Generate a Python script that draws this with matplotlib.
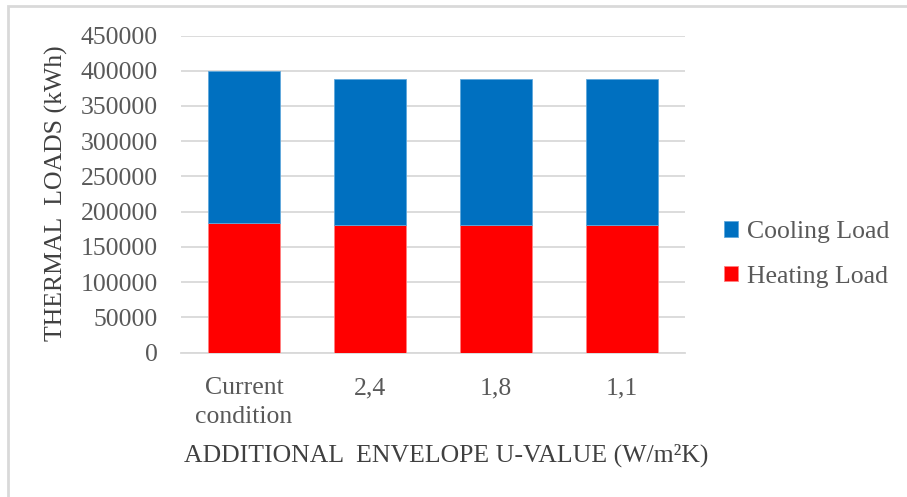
import numpy as np
import matplotlib.pyplot as plt
from matplotlib.patches import Rectangle

# thermal loads per envelope option (kWh)
categories = ["Current\ncondition", "2,4", "1,8", "1,1"]
heating_load = [184000, 181000, 181000, 181000]
cooling_load = [215000, 207000, 207000, 207000]

BLUE = "#0070C0"
RED = "#FF0000"
TXT = "#595959"
FS = 18.5

plt.rcParams["font.family"] = ["Liberation Serif", "DejaVu Serif"]

fig = plt.figure(figsize=(9.07, 4.97), dpi=100)
W, H = 907, 497
ax = fig.add_axes([181 / W, 1 - 352.7 / H, 504 / W, (352.7 - 35.5) / H])

x = np.arange(len(categories))
ax.bar(x, heating_load, width=0.565, color=RED, edgecolor="#ff8080",
       linewidth=0.6, zorder=3, label="Heating Load")
ax.bar(x, cooling_load, width=0.565, bottom=heating_load, color=BLUE,
       edgecolor="#5fa8dc", linewidth=0.6, zorder=3, label="Cooling Load")

ax.set_xlim(-0.5, 3.5)
ax.set_ylim(0, 450000)
ax.set_yticks(np.arange(0, 450001, 50000))
ax.yaxis.grid(True, color="#d9d9d9", linewidth=1.3, zorder=0)
ax.set_axisbelow(True)
for s in ["top", "right", "left"]:
    ax.spines[s].set_visible(False)
ax.spines["bottom"].set_color("#d9d9d9")
ax.spines["bottom"].set_linewidth(1.3)

ax.set_xticks(x)
ax.set_xticklabels(categories, fontsize=FS, color=TXT, linespacing=1.4)
ax.tick_params(axis="x", length=0, pad=17.5)
ax.tick_params(axis="y", length=0, pad=16.5, labelsize=FS, labelcolor=TXT)

fig.text(446 / W, 1 - 462 / H, "ADDITIONAL  ENVELOPE U-VALUE (W/m\u00b2K)",
         ha="center", va="baseline", fontsize=FS, color="#404040")
fig.text(56 / W, 1 - 193 / H, "THERMAL  LOADS (kWh)", rotation=90,
         ha="center", va="center", fontsize=FS, color="#404040")

# legend, cooling first like the stacking order top-down
handles, labels = ax.get_legend_handles_labels()
leg = fig.legend(handles[::-1], labels[::-1], loc="center left",
                 bbox_to_anchor=(701 / W, 1 - 254.5 / H), frameon=False,
                 fontsize=FS, labelcolor=TXT, handlelength=0.55,
                 handleheight=0.55, handletextpad=0.35, labelspacing=0.87)

# chart area border (top and left edges)
fig.add_artist(Rectangle((8 / W, -0.1), 1.2, 1 - 6 / H + 0.1,
                         transform=fig.transFigure, fill=False,
                         edgecolor="#d9d9d9", linewidth=2))

fig.savefig("out.png", dpi=100)
